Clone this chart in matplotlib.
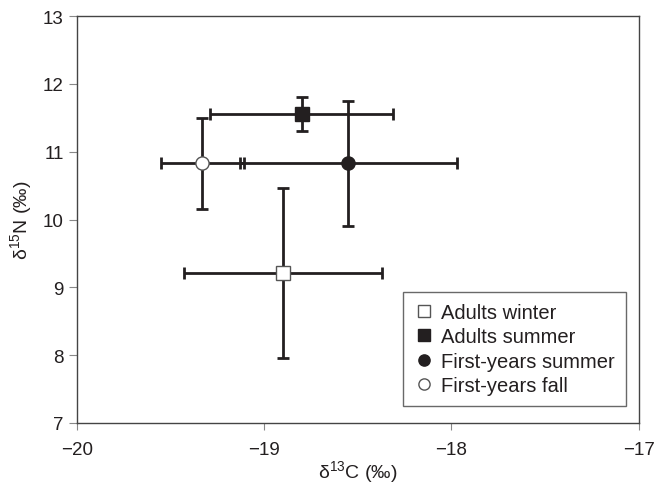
import matplotlib
matplotlib.use("Agg")
import matplotlib.pyplot as plt

plt.rcParams['font.family'] = ['Liberation Sans', 'DejaVu Sans']
plt.rcParams['mathtext.fontset'] = 'custom'
plt.rcParams['mathtext.rm'] = 'Liberation Sans'
plt.rcParams['mathtext.it'] = 'Liberation Sans:italic'

# dados
grupos = ["Adults winter", "Adults summer", "First-years summer", "First-years fall"]
d13C = [-18.90, -18.80, -18.55, -19.33]
d13C_err = [0.53, 0.49, 0.58, 0.22]
d15N = [9.21, 11.55, 10.83, 10.83]
d15N_err = [1.25, 0.25, 0.92, 0.67]

marcadores = ["s", "s", "o", "o"]
preenchimento = ["white", "#231f20", "#231f20", "white"]
tamanhos = [10, 10, 9.5, 9.5]

cor = "#231f20"

fig, ax = plt.subplots(figsize=(6.62, 4.89), dpi=100)
fig.subplots_adjust(left=0.116, right=0.965, bottom=0.133, top=0.965)

for i in range(len(grupos)):
    ax.errorbar(d13C[i], d15N[i], xerr=d13C_err[i], yerr=d15N_err[i],
                fmt="none", ecolor=cor, elinewidth=2, capsize=4.5, capthick=2,
                zorder=2)

for i in range(len(grupos)):
    ax.plot(d13C[i], d15N[i], marker=marcadores[i], markersize=tamanhos[i],
            markerfacecolor=preenchimento[i], markeredgecolor="#555555" if preenchimento[i] == "white" else cor,
            markeredgewidth=1, linestyle="none", label=grupos[i], zorder=3)

ax.set_xlim(-20, -17)
ax.set_ylim(7, 13)
ax.set_xticks([-20, -19, -18, -17])
ax.set_yticks([7, 8, 9, 10, 11, 12, 13])

ax.set_xlabel("δ$^{13}$C (‰)", fontsize=14, color=cor, labelpad=0)
ax.set_ylabel("δ$^{15}$N (‰)", fontsize=14, color=cor, labelpad=6)

ax.tick_params(axis="x", direction="out", length=5, width=0.8, color="#888888",
               labelsize=13.5, labelcolor=cor, pad=8)
ax.tick_params(axis="y", direction="out", length=5.5, width=0.8, color="#888888",
               labelsize=13.5, labelcolor=cor, pad=4)
for s in ax.spines.values():
    s.set_color("#444444")
    s.set_linewidth(1.0)

leg = ax.legend(loc="lower right", bbox_to_anchor=(0.977, 0.042), fontsize=14.5,
                frameon=True, fancybox=False, edgecolor="#444444",
                handlelength=1.0, handletextpad=0.35, borderpad=0.55,
                labelspacing=0.26, borderaxespad=0, markerscale=0.85)
leg.get_frame().set_linewidth(1.0)
for t in leg.get_texts():
    t.set_color(cor)

plt.savefig("out.png", dpi=100)
plt.close()
